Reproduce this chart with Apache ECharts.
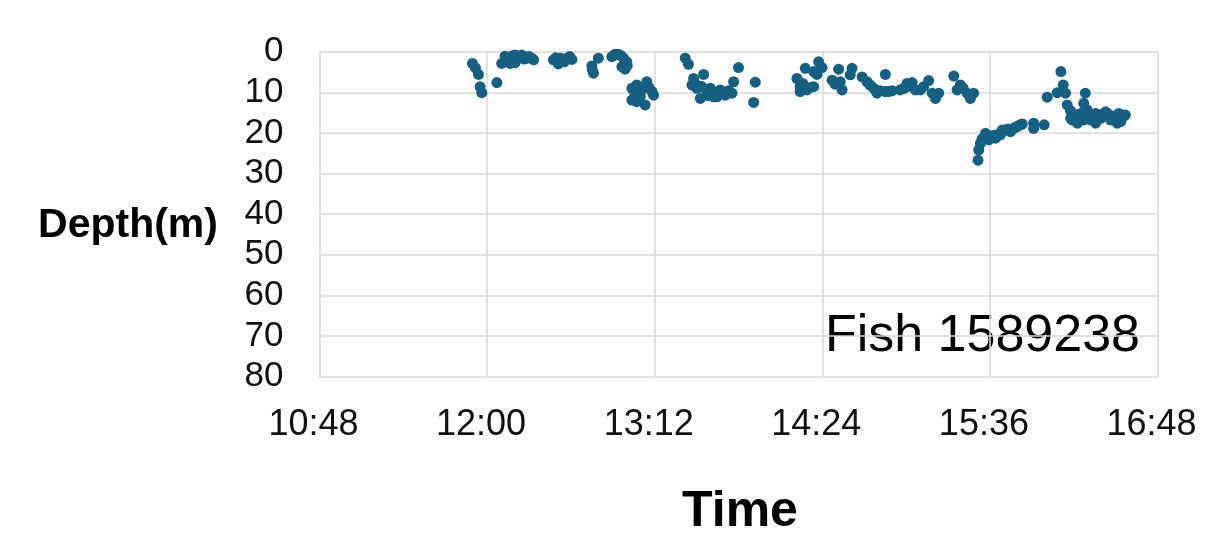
<!DOCTYPE html>
<html>
<head>
<meta charset="utf-8">
<script src="https://cdn.jsdelivr.net/npm/echarts@6/dist/echarts.min.js"></script>
<style>
html,body{margin:0;padding:0;background:#fff;}
#chart{width:1230px;height:554px;}
</style>
</head>
<body>
<div id="chart"></div>
<script>
// Time of each fix, in minutes after midnight
const timeMin = [
  713.7, 715.0, 716.3, 717.0, 717.7, 724.2,
  726.3, 727.7, 728.5, 729.9, 731.0, 732.0, 732.0, 733.5, 734.9, 736.0, 737.1, 738.0, 739.2, 740.0,
  748.5, 749.5, 750.6, 751.4, 752.5, 753.1, 754.3, 755.5, 756.4,
  765.0, 765.7, 765.2, 767.8,
  773.6, 775.0, 776.4, 777.5, 778.6, 780.0, 777.9, 779.3, 780.2,
  782.2, 782.2, 783.5, 784.3, 784.3, 785.8, 786.5, 787.9, 788.6, 789.5, 790.8, 791.5,
  805.1, 806.5, 808.0, 808.7, 809.3, 810.1, 811.6, 812.0, 813.0, 814.4, 815.0, 815.9, 817.3, 818.7,
  819.5, 820.2, 821.5, 822.3, 823.8, 825.2, 825.9, 828.0, 834.5, 835.2,
  853.1, 854.5, 854.5, 855.6, 856.7, 857.4, 858.8, 860.3, 860.3, 861.7, 862.4, 863.9, 868.2, 869.5,
  871.0, 871.7, 872.5, 876.0, 876.8, 881.1, 883.2, 884.5, 886.1, 887.5, 888.8, 891.1, 891.1, 892.5,
  894.0, 897.5, 899.0, 900.4, 900.4, 902.6, 904.0, 906.1, 907.5, 909.7, 911.2, 912.6, 914.0, 920.5,
  921.9, 923.3, 924.5, 926.2, 927.6, 929.0,
  930.9, 931.2, 931.9, 932.6, 934.1, 935.5, 936.2, 937.3, 938.4, 939.5, 940.5, 941.3, 942.7, 943.8,
  944.8, 946.2, 947.0, 948.0, 949.1, 949.9, 954.8, 954.8, 959.3, 960.6,
  964.9, 966.5, 967.5, 968.5, 969.2, 970.6, 970.7, 971.3, 972.5, 973.6, 974.2, 975.0, 976.3, 976.4,
  977.0, 977.8, 978.6, 979.3, 979.9, 981.4, 981.5, 982.5, 983.6, 984.5, 985.7, 986.5, 987.8, 988.8,
  989.5, 990.7, 991.4, 992.2, 993.2, 994.2
];
// Depth of each fix, in metres
const depthM = [
  2.9, 4.0, 5.6, 8.6, 10.1, 7.6,
  2.9, 1.1, 2.0, 2.9, 1.0, 0.8, 2.7, 1.6, 0.8, 1.8, 1.6, 1.2, 1.6, 2.0,
  2.0, 1.5, 3.0, 1.6, 1.8, 2.5, 1.6, 1.2, 1.9,
  3.5, 5.3, 4.4, 1.6,
  1.2, 0.6, 0.6, 1.0, 1.6, 2.5, 3.7, 4.3, 3.4,
  9.0, 11.9, 10.5, 8.2, 12.3, 11.1, 9.4, 13.1, 7.4, 8.8, 9.8, 10.7,
  1.6, 3.1, 8.2, 6.6, 7.8, 9.0, 11.5, 8.5, 5.6, 9.8, 10.8, 9.0, 11.1, 11.1,
  10.5, 9.4, 10.2, 10.7, 9.6, 10.2, 7.4, 3.9, 12.5, 7.5,
  6.6, 8.6, 9.8, 7.8, 4.1, 9.4, 8.8, 8.6, 4.9, 5.6, 2.5, 3.9, 7.0, 8.0,
  4.3, 7.4, 9.4, 5.7, 4.1, 6.2, 7.4, 8.2, 9.0, 10.2, 9.6, 5.6, 9.8, 9.8,
  9.6, 9.4, 9.0, 8.6, 7.8, 7.6, 9.4, 9.4, 8.6, 7.1, 10.2, 11.5, 10.2, 6.0,
  9.4, 8.2, 9.0, 10.2, 11.5, 10.2,
  26.7, 24.2, 22.6, 21.5, 20.1, 21.7, 21.0, 20.6, 21.3, 20.3, 20.5, 19.3, 19.3, 19.0,
  19.7, 18.9, 18.6, 18.3, 18.0, 17.8, 17.6, 18.9, 18.0, 11.2,
  10.1, 4.9, 8.2, 10.2, 13.1, 14.5, 16.4, 16.8, 15.5, 17.6, 16.5, 15.2, 12.7, 16.8,
  10.2, 14.3, 15.5, 16.8, 16.0, 17.6, 15.2, 16.2, 16.4, 15.4, 14.8, 15.2, 16.8, 15.8,
  16.5, 17.6, 15.2, 17.2, 16.0, 15.6
];
const xTickStart = 648;   // 10:48
const xTickEnd = 1008;    // 16:48
const xTickStep = 72;     // minutes
const yTicks = [0, 80, 10];
const xTitle = 'Time';
const yTitle = 'Depth(m)';
const fishLabel = 'Fish 1589238';

const points = timeMin.map((t, i) => [t, depthM[i]]);
const fmtTime = v => {
  const h = Math.floor(v / 60), m = Math.round(v - h * 60);
  return h + ':' + (m < 10 ? '0' + m : m);
};
const FONT = '"Liberation Sans", Arial, sans-serif';
const gridColor = '#d9d9d9';

const chart = echarts.init(document.getElementById('chart'));
chart.setOption({
  backgroundColor: '#fff',
  animation: false,
  grid: { left: 319.5, right: 72.5, top: 51.7, bottom: 177.3, containLabel: false },
  xAxis: {
    type: 'value', min: xTickStart, max: xTickEnd, interval: xTickStep,
    axisLine: { show: false }, axisTick: { show: false },
    splitLine: { show: true, lineStyle: { color: gridColor, width: 1.5 } },
    axisLabel: { formatter: fmtTime, fontSize: 36, color: '#111', fontFamily: FONT, margin: 30, padding: [0, 12, 0, 0] }
  },
  yAxis: {
    type: 'value', inverse: true, min: yTicks[0], max: yTicks[1], interval: yTicks[2],
    axisLine: { show: false }, axisTick: { show: false },
    splitLine: { show: true, lineStyle: { color: gridColor, width: 1.5 } },
    axisLabel: { fontSize: 35, color: '#111', fontFamily: FONT, margin: 36 }
  },
  graphic: [
    { type: 'text', x: 128, y: 226, style: { text: yTitle, fontSize: 41, fontWeight: 'bold', fontFamily: FONT, fill: '#000', textAlign: 'center', textVerticalAlign: 'middle' } },
    { type: 'text', x: 740, y: 512, style: { text: xTitle, fontSize: 50, fontWeight: 'bold', fontFamily: FONT, fill: '#000', textAlign: 'center', textVerticalAlign: 'middle' } },
    { type: 'text', x: 1140, y: 337, style: { text: fishLabel, fontSize: 52, fontFamily: FONT, fill: '#000', textAlign: 'right', textVerticalAlign: 'middle' } }
  ],
  series: [{
    type: 'scatter', data: points, symbolSize: 11,
    itemStyle: { color: '#156082', opacity: 1 }
  }]
});
</script>
</body>
</html>
